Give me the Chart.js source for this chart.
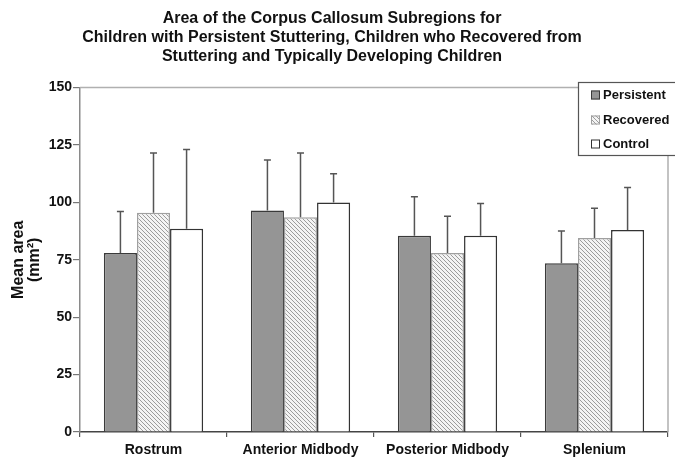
<!DOCTYPE html>
<html>
<head>
<meta charset="utf-8">
<script src="https://cdn.jsdelivr.net/npm/chart.js@4/dist/chart.umd.min.js"></script>
<style>
  html, body { margin: 0; padding: 0; background: #fff; }
  canvas { display: block; }
</style>
</head>
<body>
<canvas id="c" width="675" height="462"></canvas>
<script>
const categories = ['Rostrum', 'Anterior Midbody', 'Posterior Midbody', 'Splenium'];
const seriesNames = ['Persistent', 'Recovered', 'Control'];
const persistent = [78, 96.5, 85.5, 73.5];
const recovered = [95.5, 93.5, 78, 84.5];
const control = [88.5, 100, 85.5, 88];
const persistentSD = [18, 22, 17, 14];
const recoveredSD = [26, 28, 16, 13];
const controlSD = [34.5, 12.5, 14, 18.5];
const yTicks = [0, 25, 50, 75, 100, 125, 150];
const titleLines = ['Area of the Corpus Callosum Subregions for',
  'Children with Persistent Stuttering, Children who Recovered from',
  'Stuttering and Typically Developing Children'];
const yTitle = ['Mean area', '(mm\u00B2)'];

const FONT = "'Liberation Sans', Arial, sans-serif";

function makeHatch() {
  const s = 4;
  const pc = document.createElement('canvas');
  pc.width = s; pc.height = s;
  const p = pc.getContext('2d');
  p.fillStyle = '#f4f4f4';
  p.fillRect(0, 0, s, s);
  p.strokeStyle = '#9c9c9c';
  p.lineWidth = 1;
  p.beginPath();
  p.moveTo(-1, -1); p.lineTo(s + 1, s + 1);
  p.moveTo(-1, s - 1); p.lineTo(1, s + 1);
  p.moveTo(s - 1, -1); p.lineTo(s + 1, 1);
  p.stroke();
  return p.createPattern(pc, 'repeat');
}
const ctx = document.getElementById('c').getContext('2d');
const hatch = makeHatch();

const errorBars = {
  id: 'errorBars',
  afterDatasetsDraw(chart) {
    const c = chart.ctx;
    const y = chart.scales.y;
    c.save();
    c.strokeStyle = '#555';
    c.lineWidth = 1.5;
    chart.data.datasets.forEach((ds, i) => {
      const meta = chart.getDatasetMeta(i);
      meta.data.forEach((bar, j) => {
        const top = y.getPixelForValue(ds.data[j] + ds.sd[j]);
        c.beginPath();
        c.moveTo(bar.x, bar.y);
        c.lineTo(bar.x, top);
        c.moveTo(bar.x - 3.5, top);
        c.lineTo(bar.x + 3.5, top);
        c.stroke();
      });
    });
    c.restore();
  }
};

const frame = {
  id: 'frame',
  beforeDatasetsDraw(chart) {
    const a = chart.chartArea;
    const c = chart.ctx;
    c.save();
    c.strokeStyle = '#b0b0b0';
    c.lineWidth = 1.5;
    c.beginPath();
    c.moveTo(a.left, a.top);
    c.lineTo(a.right, a.top);
    c.lineTo(a.right, a.bottom);
    c.stroke();
    c.restore();
  }
};

const boxLegend = {
  id: 'boxLegend',
  afterDraw(chart) {
    const c = chart.ctx;
    c.save();
    const bx = 578.5, by = 82.5, bw = 110, bh = 73;
    c.fillStyle = '#fff';
    c.fillRect(bx, by, bw, bh);
    c.strokeStyle = '#555';
    c.lineWidth = 1.2;
    c.strokeRect(bx, by, bw, bh);
    const rows = [95, 120, 144];
    chart.data.datasets.forEach((ds, i) => {
      const cy = rows[i];
      c.fillStyle = ds.backgroundColor;
      c.fillRect(591, cy - 4.5, 9, 9);
      c.strokeStyle = ds.borderColor;
      c.lineWidth = 1;
      c.strokeRect(591.5, cy - 4, 8, 8);
      c.fillStyle = '#111';
      c.font = 'bold 13px ' + FONT;
      c.textBaseline = 'middle';
      c.textAlign = 'left';
      c.fillText(ds.label, 603, cy + 0.5);
    });
    c.restore();
  }
};

const titleShift = {
  id: 'titleShift',
  afterLayout(chart) {
    if (chart.titleBlock) {
      chart.titleBlock.left = 0;
      chart.titleBlock.right = 664;
      chart.titleBlock.width = 664;
    }
  }
};

new Chart(ctx, {
  type: 'bar',
  data: {
    labels: categories,
    datasets: [
      { label: seriesNames[0], data: persistent, sd: persistentSD,
        backgroundColor: '#959595', borderColor: '#3a3a3a', borderWidth: 1.5 },
      { label: seriesNames[1], data: recovered, sd: recoveredSD,
        backgroundColor: hatch, borderColor: '#a0a0a0', borderWidth: 1.5 },
      { label: seriesNames[2], data: control, sd: controlSD,
        backgroundColor: '#ffffff', borderColor: '#333333', borderWidth: 1.5 }
    ]
  },
  options: {
    responsive: false,
    animation: false,
    devicePixelRatio: 1,
    categoryPercentage: 0.675,
    barPercentage: 1.0,
    layout: { padding: { left: 0, right: 7, top: 0, bottom: 0 } },
    plugins: {
      legend: { display: false },
      tooltip: { enabled: false },
      title: {
        display: true,
        text: titleLines,
        color: '#111',
        font: { family: FONT, size: 16, weight: 'bold', lineHeight: 1.2 },
        padding: { top: 9, bottom: 21 }
      }
    },
    scales: {
      x: {
        grid: { display: true, drawOnChartArea: false, offset: true, tickLength: 5, color: '#555', lineWidth: 1.2 },
        border: { color: '#444', width: 1.5 },
        ticks: { color: '#111', font: { family: FONT, size: 14, weight: 'bold' }, padding: 5, maxRotation: 0, autoSkip: false },
        afterFit(s) { s.height = 30; }
      },
      y: {
        min: 0, max: 150,
        afterBuildTicks(s) { s.ticks = yTicks.map(v => ({ value: v })); },
        grid: { display: true, drawOnChartArea: false, tickLength: 7, color: '#777', lineWidth: 1.2 },
        border: { color: '#8a8a8a', width: 1.5 },
        ticks: { color: '#111', font: { family: FONT, size: 14, weight: 'bold' }, padding: 1 },
        title: {
          display: true, text: yTitle, color: '#111',
          font: { family: FONT, size: 16, weight: 'bold', lineHeight: 1.0 },
          padding: { top: 11, bottom: 0 }
        },
        afterFit(s) { s.width = 80; }
      }
    }
  },
  plugins: [titleShift, frame, errorBars, boxLegend]
});
</script>
</body>
</html>
